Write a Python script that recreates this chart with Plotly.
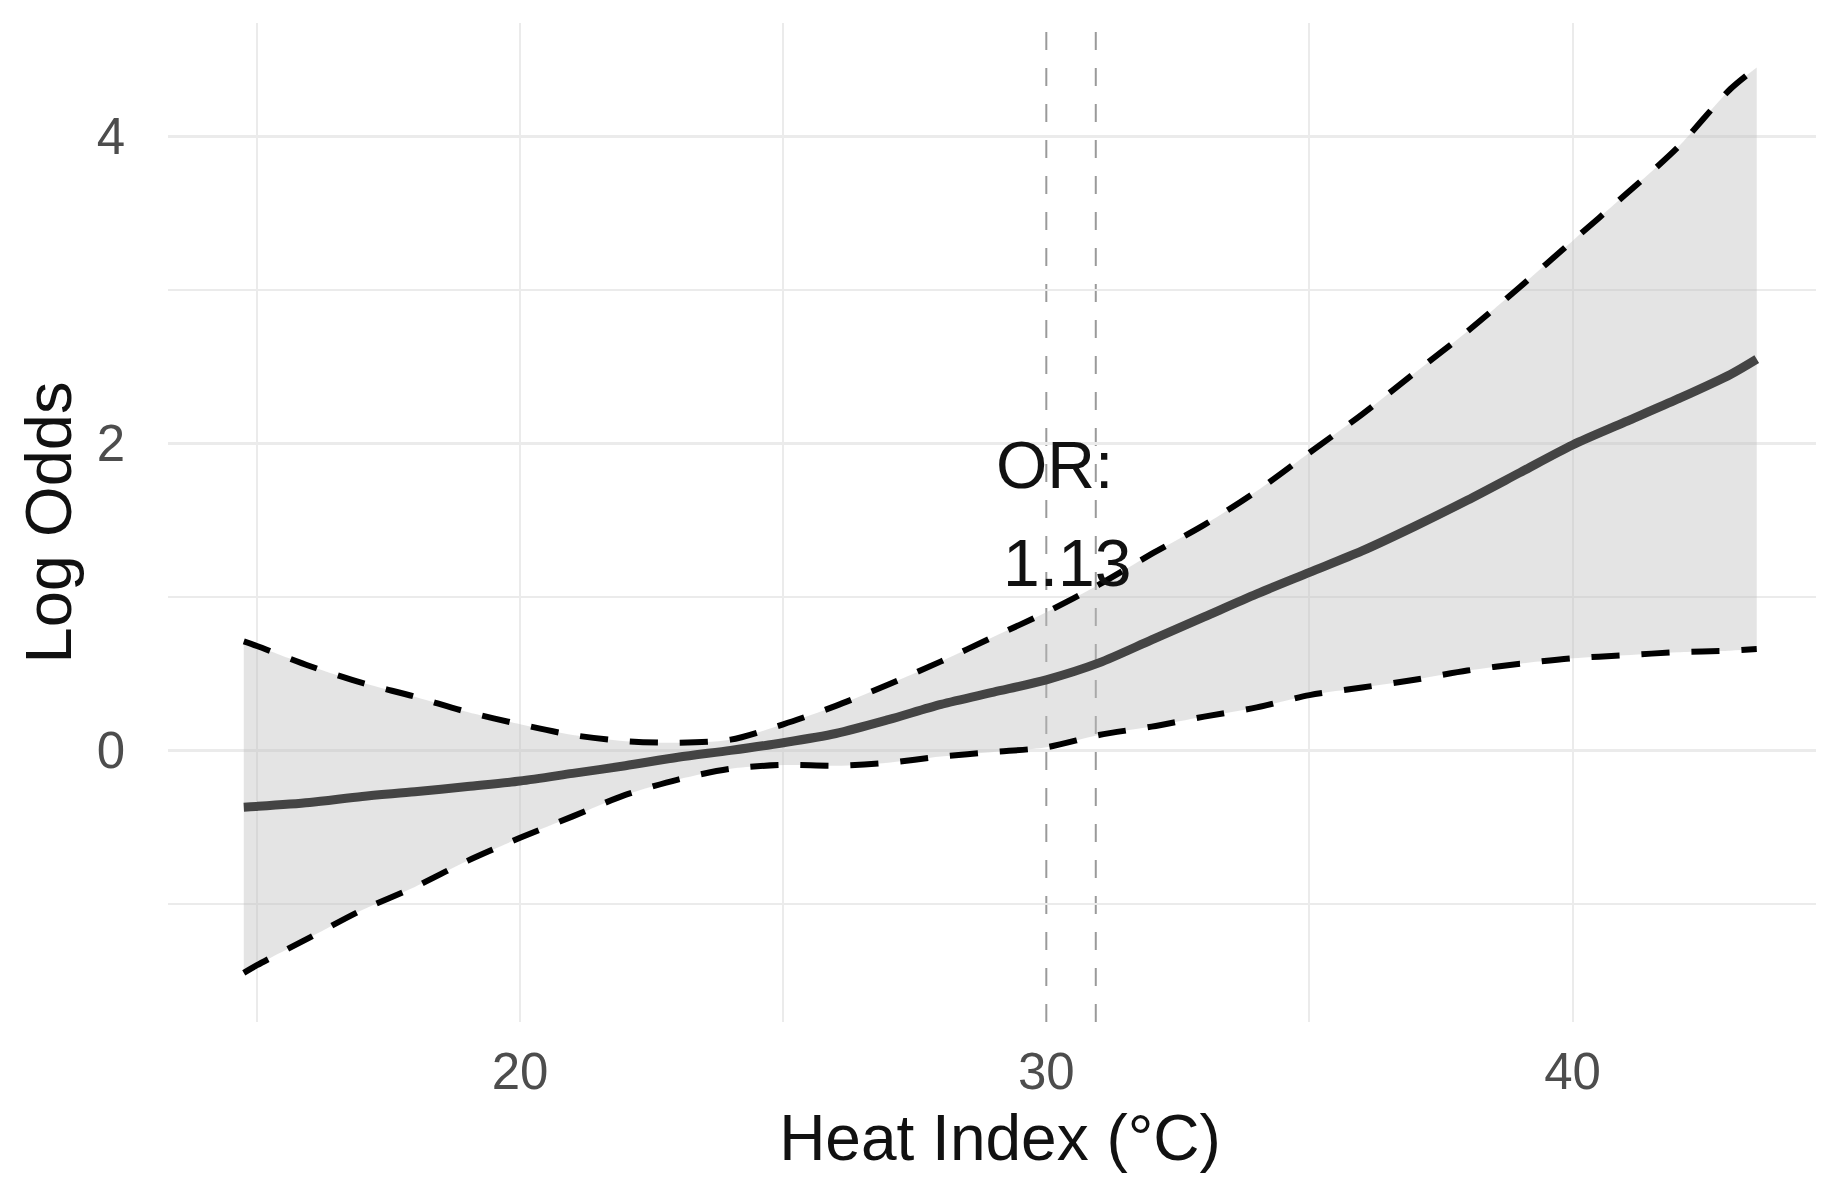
import plotly.graph_objects as go

# Heat index (°C)
heat_index = [14.75, 15, 16, 17, 18, 19, 20, 21, 22, 23, 24, 25, 26, 27, 28, 29, 30,
              31, 32, 33, 34, 35, 36, 37, 38, 39, 40, 41, 42, 43, 43.5]
# Fitted log odds
log_odds = [-0.37, -0.365, -0.34, -0.30, -0.27, -0.235, -0.20, -0.15, -0.10, -0.045, 0.0,
            0.05, 0.11, 0.20, 0.30, 0.38, 0.46, 0.57, 0.72, 0.87, 1.02, 1.16, 1.30, 1.46,
            1.63, 1.81, 1.99, 2.14, 2.29, 2.45, 2.55]
# Upper confidence bound
upper_ci = [0.71, 0.68, 0.55, 0.44, 0.35, 0.25, 0.17, 0.10, 0.06, 0.05, 0.07,
            0.17, 0.29, 0.43, 0.58, 0.74, 0.90, 1.08, 1.28, 1.47, 1.69, 1.94, 2.19, 2.46,
            2.73, 3.02, 3.32, 3.62, 3.93, 4.31, 4.45]
# Lower confidence bound
lower_ci = [-1.45, -1.40, -1.22, -1.04, -0.89, -0.72, -0.57, -0.43, -0.29, -0.19, -0.12,
            -0.095, -0.10, -0.08, -0.04, -0.01, 0.02, 0.10, 0.155, 0.22, 0.28, 0.36, 0.41, 0.46,
            0.52, 0.565, 0.60, 0.62, 0.64, 0.65, 0.66]

# Reference lines and annotation
vline_x = [30.0, 30.94]
or_label_lines = ["OR:", "1.13"]
or_label_x = [30.15, 30.39]
or_label_y = [1.86, 1.22]

x_major = [20, 30, 40]
x_grid = [15, 20, 25, 35, 40]   # gridline at 30 is covered by the dashed reference line
y_major = [0, 2, 4]
y_minor = [-1, 1, 3]

FONT = "Liberation Sans, Arial, sans-serif"
GRID = "#EBEBEB"
SPL = dict(shape="spline", smoothing=0.8)

fig = go.Figure()

# ribbon (lower edge, then upper edge filled down to it)
fig.add_trace(go.Scatter(
    x=heat_index, y=lower_ci, mode="lines",
    line=dict(width=0, **SPL), hoverinfo="skip", showlegend=False))
fig.add_trace(go.Scatter(
    x=heat_index, y=upper_ci, mode="lines", fill="tonexty",
    fillcolor="rgba(190,190,190,0.42)",
    line=dict(width=0, **SPL), hoverinfo="skip", showlegend=False))

# CI dashed lines
for series in (upper_ci, lower_ci):
    fig.add_trace(go.Scatter(
        x=heat_index, y=series, mode="lines",
        line=dict(color="black", width=6, dash="28px,22px", **SPL),
        showlegend=False))

# fitted line
fig.add_trace(go.Scatter(
    x=heat_index, y=log_odds, mode="lines",
    line=dict(color="#444444", width=9, **SPL), showlegend=False))

for vx in vline_x:
    fig.add_shape(type="line", xref="x", yref="paper", x0=vx, x1=vx, y0=0, y1=1,
                  line=dict(color="#9A9A9A", width=2, dash="18px,18px"), layer="between")

for txt, tx, ty in zip(or_label_lines, or_label_x, or_label_y):
    fig.add_annotation(x=tx, y=ty, text=txt, showarrow=False,
                       xanchor="center", yanchor="middle",
                       font=dict(family=FONT, size=66, color="#111111"))

fig.update_layout(
    width=1824, height=1178,
    margin=dict(l=160, r=0, t=15, b=164),
    paper_bgcolor="white", plot_bgcolor="white",
    font=dict(family=FONT),
    showlegend=False,
)

fig.update_xaxes(
    range=[13.31, 44.93],
    tickmode="array", tickvals=x_major, ticktext=[str(v) for v in x_major],
    showgrid=False,
    minor=dict(tickmode="array", tickvals=x_grid, showgrid=True, gridcolor=GRID, gridwidth=2),
    zeroline=False, showline=False, ticks="",
    tickfont=dict(family=FONT, size=51, color="#4D4D4D"),
    ticklabelstandoff=15,
    title=dict(text="Heat Index (°C)", font=dict(family=FONT, size=64, color="#111111"), standoff=16),
)
fig.update_yaxes(
    range=[-1.77, 4.74],
    tickmode="array", tickvals=y_major, ticktext=[str(v) for v in y_major],
    showgrid=True, gridcolor=GRID, gridwidth=2.5,
    minor=dict(tickmode="array", tickvals=y_minor, showgrid=True, gridcolor=GRID, gridwidth=2),
    zeroline=False, showline=False, ticks="",
    tickfont=dict(family=FONT, size=51, color="#4D4D4D"),
    ticklabelstandoff=42,
    title=dict(text="Log Odds", font=dict(family=FONT, size=65, color="#111111"), standoff=3),
)

fig.write_html("out.html")
